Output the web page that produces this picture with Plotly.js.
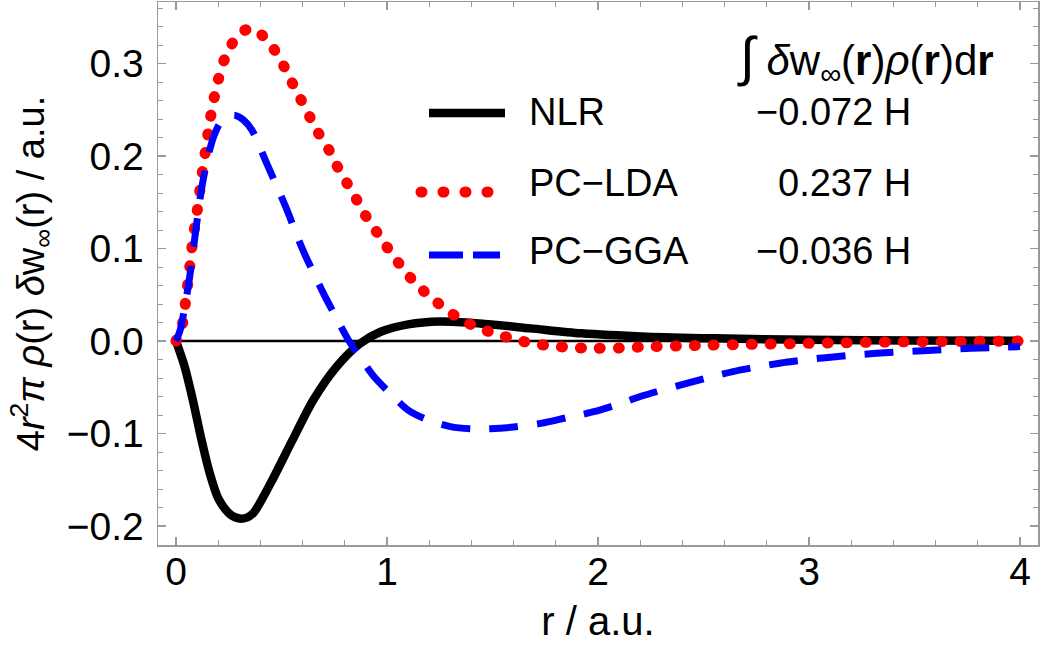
<!DOCTYPE html>
<html>
<head>
<meta charset="utf-8">
<script src="https://cdn.plot.ly/plotly-3.0.1.min.js"></script>
<style>
  html, body { margin: 0; padding: 0; background: #fff; }
  #chart { width: 1042px; height: 655px; }
  .scatterlayer .trace:nth-child(3) .js-line { stroke-linecap: round !important; }
  .shapelayer path[data-index="1"] { stroke-linecap: round !important; }
</style>
</head>
<body>
<div id="chart"></div>
<script>
// ---- data ----
const zeroX = [0, 4];
const zeroY = [0, 0];

const nlrX = [0, 0.04, 0.08, 0.12, 0.16, 0.20, 0.25, 0.28, 0.31, 0.34, 0.37, 0.45, 0.55, 0.65, 0.76, 0.87, 0.97, 1.10, 1.25, 1.44, 1.68, 1.92, 2.23, 2.55, 3.0, 3.5, 4.0];
const nlrY = [0, -0.027, -0.064, -0.106, -0.143, -0.170, -0.186, -0.1905, -0.192, -0.1905, -0.185, -0.153, -0.108, -0.064, -0.028, -0.003, 0.010, 0.018, 0.0212, 0.019, 0.0137, 0.0083, 0.0047, 0.0029, 0.0013, 0.0005, 0.0002];

const ldaX = [0, 0.03, 0.045, 0.065, 0.08, 0.10, 0.12, 0.14, 0.16, 0.18, 0.20, 0.22, 0.26, 0.30, 0.345, 0.385, 0.45, 0.50, 0.54, 0.58, 0.62, 0.66, 0.71, 0.75, 0.79, 0.84, 0.88, 0.93, 0.98, 1.03, 1.08, 1.14, 1.21, 1.28, 1.35, 1.43, 1.52, 1.60, 1.69, 1.78, 1.86, 1.95, 2.1, 2.2, 2.5, 2.75, 3.0, 3.4, 4.0];
const ldaY = [0, 0.018, 0.042, 0.080, 0.110, 0.140, 0.175, 0.206, 0.237, 0.262, 0.282, 0.299, 0.319, 0.333, 0.337, 0.335, 0.320, 0.302, 0.284, 0.266, 0.249, 0.230, 0.213, 0.195, 0.178, 0.160, 0.142, 0.125, 0.108, 0.092, 0.077, 0.061, 0.047, 0.034, 0.0235, 0.0144, 0.0076, 0.002, -0.0025, -0.0054, -0.0068, -0.0078, -0.0075, -0.0065, -0.0045, -0.0035, -0.0025, -0.001, 0];

const ggaX = [0, 0.02, 0.06, 0.09, 0.12, 0.15, 0.18, 0.21, 0.25, 0.28, 0.32, 0.36, 0.43, 0.52, 0.60, 0.70, 0.76, 0.82, 0.88, 0.94, 1.03, 1.10, 1.19, 1.30, 1.40, 1.49, 1.60, 1.73, 1.85, 1.98, 2.1, 2.2, 2.42, 2.64, 2.86, 3.09, 3.32, 3.54, 3.77, 4.0];
const ggaY = [0, 0.012, 0.062, 0.113, 0.163, 0.198, 0.222, 0.236, 0.243, 0.244, 0.239, 0.228, 0.192, 0.145, 0.099, 0.051, 0.025, 0.000, -0.020, -0.039, -0.060, -0.0746, -0.085, -0.0926, -0.095, -0.0948, -0.093, -0.089, -0.083, -0.0764, -0.068, -0.060, -0.0457, -0.033, -0.024, -0.0177, -0.0133, -0.0105, -0.0079, -0.006];

const seriesNames = ['NLR', 'PC\u2212LDA', 'PC\u2212GGA'];
const seriesValues = ['\u22120.072 H', '0.237 H', '\u22120.036 H'];
const xTickVals = [0, 1, 2, 3, 4];
const yTickVals = [-0.2, -0.1, 0.0, 0.1, 0.2, 0.3];

// ---- geometry helpers (pixel -> paper) ----
const L = 158, R = 1038, T = 2, B = 545;
const px = v => (v - L) / (R - L);
const py = v => (B - v) / (B - T);

const FONT = 'Liberation Sans, Arial, Helvetica, sans-serif';
const FRAME = '#9a9a9a';

const traces = [
  { x: zeroX, y: zeroY, mode: 'lines', line: { color: '#000', width: 2.5 }, hoverinfo: 'skip', showlegend: false },
  { x: nlrX, y: nlrY, mode: 'lines', name: seriesNames[0], line: { color: '#000', width: 8.5, shape: 'spline', smoothing: 0.8 }, showlegend: false },
  { x: ldaX, y: ldaY, mode: 'lines', name: seriesNames[1], line: { color: '#ff0000', width: 11, dash: '1px,18px', shape: 'spline', smoothing: 0.8 }, showlegend: false },
  { x: ggaX, y: ggaY, mode: 'lines', name: seriesNames[2], line: { color: '#0000ff', width: 7, dash: '29px,19px', shape: 'spline', smoothing: 0.8 }, showlegend: false }
];

const axisCommon = {
  showgrid: false, zeroline: false, showline: true, linecolor: FRAME, linewidth: 1.5,
  mirror: 'ticks', ticks: 'inside', ticklen: 8, tickwidth: 1.2, tickcolor: FRAME,
  tickfont: { family: FONT, size: 39, color: '#000' }
};

const rowY = [112, 183, 251];
const annotations = [];
seriesNames.forEach((n, i) => {
  annotations.push({ xref: 'paper', yref: 'paper', x: px(527), y: py(rowY[i]), xanchor: 'left', yanchor: 'middle', text: n, showarrow: false, font: { family: FONT, size: 38, color: '#000' } });
  annotations.push({ xref: 'paper', yref: 'paper', x: px(913), y: py(rowY[i]), xanchor: 'right', yanchor: 'middle', text: seriesValues[i], showarrow: false, font: { family: FONT, size: 38, color: '#000' } });
});
annotations.push({ xref: 'paper', yref: 'paper', x: px(996), y: py(58), xanchor: 'right', yanchor: 'middle',
  text: '<span style="font-size:54px">\u222B</span> <i>\u03B4</i>w<sub>\u221E</sub>(<b>r</b>)<i>\u03C1</i>(<b>r</b>)d<b>r</b>',
  showarrow: false, font: { family: FONT, size: 42, color: '#000' } });

const shapes = [
  { type: 'line', xref: 'paper', yref: 'paper', x0: px(429), x1: px(505), y0: py(113), y1: py(113), line: { color: '#000', width: 8.5 } },
  { type: 'line', xref: 'paper', yref: 'paper', x0: px(421), x1: px(500), y0: py(192), y1: py(192), line: { color: '#ff0000', width: 11, dash: '1px,21px' } },
  { type: 'line', xref: 'paper', yref: 'paper', x0: px(429), x1: px(500), y0: py(255), y1: py(255), line: { color: '#0000ff', width: 7, dash: '34px,10px' } }
];

const layout = {
  width: 1042, height: 655,
  margin: { l: L, r: 1042 - R, t: T, b: 655 - B, pad: 0 },
  paper_bgcolor: '#fff', plot_bgcolor: '#fff',
  showlegend: false,
  xaxis: Object.assign({}, axisCommon, {
    range: [-0.0853, 4.085], tickvals: xTickVals, ticktext: xTickVals.map(String),
    ticklabelstandoff: -8,
    minor: { dtick: 0.2, tick0: 0, ticks: 'inside', ticklen: 5, tickcolor: FRAME, tickwidth: 1 },
    title: { text: 'r / a.u.', font: { family: FONT, size: 40, color: '#000' }, standoff: 14 }
  }),
  yaxis: Object.assign({}, axisCommon, {
    range: [-0.2205, 0.3665], tickvals: yTickVals, ticktext: yTickVals.map(v => (v < 0 ? '\u2212' : '') + Math.abs(v).toFixed(1)),
    ticklabelstandoff: 5,
    minor: { dtick: 0.02, tick0: 0, ticks: 'inside', ticklen: 5, tickcolor: FRAME, tickwidth: 1 },
    title: { text: '4<i>r</i><sup>2</sup><i>\u03C0</i> <i>\u03C1</i>(r) <i>\u03B4</i>w<sub>\u221E</sub>(r) / a.u.', font: { family: FONT, size: 38, color: '#000' }, standoff: 10 }
  }),
  annotations: annotations,
  shapes: shapes
};

Plotly.newPlot('chart', traces, layout, { staticPlot: true, displayModeBar: false });
</script>
</body>
</html>
